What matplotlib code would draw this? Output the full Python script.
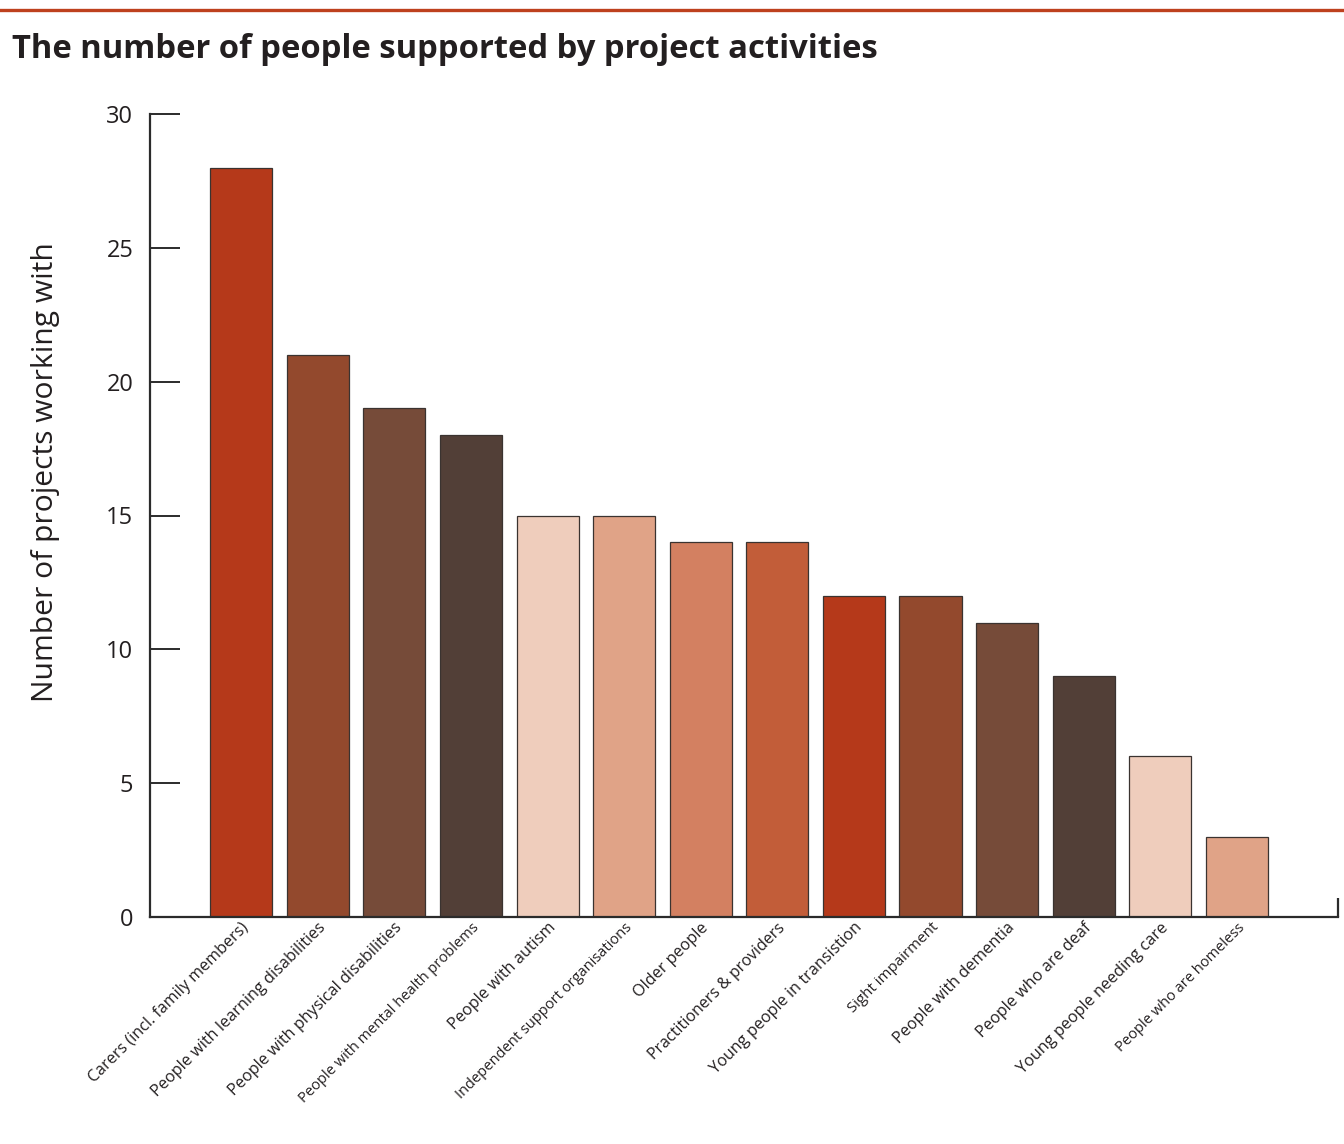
import matplotlib
matplotlib.use("Agg")
import matplotlib.pyplot as plt
from matplotlib.lines import Line2D

categories = [
    "Carers (incl. family members)",
    "People with learning disabilities",
    "People with physical disabilities",
    "People with mental health problems",
    "People with autism",
    "Independent support organisations",
    "Older people",
    "Practitioners & providers",
    "Young people in transistion",
    "Sight impairment",
    "People with dementia",
    "People who are deaf",
    "Young people needing care",
    "People who are homeless",
]
values = [28, 21, 19, 18, 15, 15, 14, 14, 12, 12, 11, 9, 6, 3]
palette = ["#B5391A", "#93492D", "#764B39", "#523F37",
           "#EFCDBC", "#E0A387", "#D38061", "#C25D39"]
y_ticks = [0, 5, 10, 15, 20, 25, 30]

title = "The number of people supported by project activities"
y_label = "Number of projects working with"

# the longer category labels are set a touch smaller
label_sizes = [11.6, 11.7, 11.7, 10.5, 11.7, 10.5, 11.7,
               11.5, 11.7, 10.9, 11.6, 11.7, 11.7, 10.5]

plt.rcParams["font.family"] = ["Open Sans", "DejaVu Sans"]
text_color = "#231F20"

W, H, DPI = 1344, 1144, 100
fig = plt.figure(figsize=(W / DPI, H / DPI), dpi=DPI)
fig.patch.set_facecolor("white")

# axes frame in pixel terms: left spine at x=150, baseline at y=917, top (30) at y=114
left, right, bottom, top = 150, 1338, 917, 114
ax = fig.add_axes([left / W, 1 - bottom / H, (right - left) / W, (bottom - top) / H])

x = list(range(len(values)))
colors = [palette[i % len(palette)] for i in x]
ax.bar(x, values, width=0.81, color=colors, edgecolor="#3A3330", linewidth=0.9, zorder=2)

ax.set_xlim(-1.19, len(values) - 1 + 1.32)
ax.set_ylim(0, 30)

for s in ["top", "right"]:
    ax.spines[s].set_visible(False)
for s in ["left", "bottom"]:
    ax.spines[s].set_color("#2B2B2B")
    ax.spines[s].set_linewidth(1.6)

ax.set_yticks(y_ticks)
ax.set_yticklabels([str(t) for t in y_ticks])
ax.tick_params(axis="y", direction="in", length=21.5, width=1.4, color="#2B2B2B",
               labelsize=17, labelcolor=text_color, pad=12)
ax.tick_params(axis="x", length=0, pad=0)
ax.set_xticks(x)
ax.set_xticklabels([])

# small closing tick at the right end of the baseline
ax.plot([1, 1], [0, 19 / (bottom - top)], transform=ax.transAxes,
        color="#2B2B2B", lw=1.6, clip_on=False, solid_capstyle="butt")

# rotated category labels
for xi, lab, fs in zip(x, categories, label_sizes):
    ax.annotate(lab, xy=(xi, 0), xycoords=("data", "axes fraction"),
                xytext=(4, -6), textcoords="offset points",
                rotation=45, rotation_mode="anchor", ha="right", va="center",
                fontsize=fs, color=text_color)

ax.set_ylabel(y_label, fontsize=21.6, color=text_color, labelpad=0)
ax.yaxis.set_label_coords(-0.076, (bottom - 472) / (bottom - top))

# title and top rule
fig.text(12 / W, 1 - 50 / H, title, fontsize=23.6, fontweight="bold",
         color=text_color, ha="left", va="center")
fig.add_artist(Line2D([0, 1], [1 - 9.5 / H, 1 - 9.5 / H], transform=fig.transFigure,
                      color="#BE411E", lw=2.4))

fig.savefig("out.png", dpi=DPI, facecolor="white")
